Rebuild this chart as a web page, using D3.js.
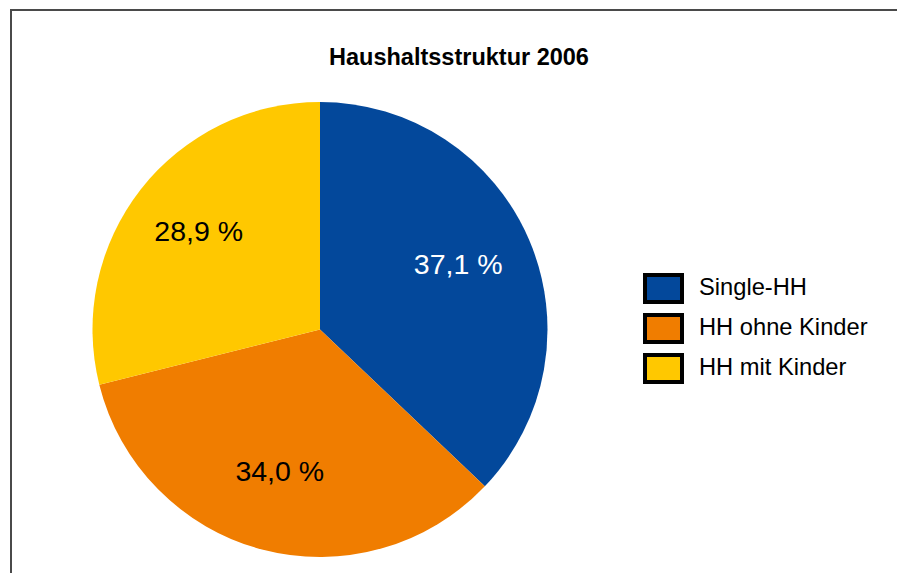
<!DOCTYPE html>
<html>
<head>
<meta charset="utf-8">
<script src="https://cdn.jsdelivr.net/npm/d3@7"></script>
<style>
  html, body { margin: 0; padding: 0; background: #fff; }
  svg { display: block; }
</style>
</head>
<body>
<svg id="chart"></svg>
<script>
const categories = ['Single-HH', 'HH ohne Kinder', 'HH mit Kinder'];
const values = [37.1, 34.0, 28.9];
const labelText = ['37,1 %', '34,0 %', '28,9 %'];
const colors = ['#03489b', '#f07d00', '#ffc800'];
const labelColors = ['#ffffff', '#000000', '#000000'];

const width = 897;
const height = 573;
const cx = 320, cy = 329.5, radius = 227.5;

const svg = d3.select('#chart')
    .attr('width', width)
    .attr('height', height)
    .style('font-family', '"Liberation Sans", Arial, sans-serif');

// frame (only top and left edges are visible)
svg.append('path')
    .attr('d', `M11,${height} L11,10 L${width},10`)
    .attr('fill', 'none')
    .attr('stroke', '#4a4a4a')
    .attr('stroke-width', 2);

svg.append('text')
    .attr('x', 459)
    .attr('y', 65)
    .attr('text-anchor', 'middle')
    .attr('font-weight', 'bold')
    .attr('font-size', 23.5)
    .attr('fill', '#000')
    .text('Haushaltsstruktur 2006');

const data = categories.map((c, i) => ({name: c, value: values[i], label: labelText[i], i}));

const pie = d3.pie()
    .value(d => d.value)
    .sort(null);

const arc = d3.arc()
    .innerRadius(0)
    .outerRadius(radius);

const labelArc = d3.arc()
    .innerRadius(152)
    .outerRadius(152);

const g = svg.append('g')
    .attr('transform', `translate(${cx},${cy})`);

const arcs = pie(data);

g.selectAll('path')
    .data(arcs)
    .join('path')
    .attr('d', arc)
    .attr('fill', d => colors[d.data.i]);

g.selectAll('text')
    .data(arcs)
    .join('text')
    .attr('transform', d => `translate(${labelArc.centroid(d)})`)
    .attr('text-anchor', 'middle')
    .attr('dx', -1.5)
    .attr('dy', '0.17em')
    .attr('font-size', 28.5)
    .attr('fill', d => labelColors[d.data.i])
    .text(d => d.data.label);

// legend
const legend = svg.append('g')
    .attr('transform', 'translate(645,275)');

const item = legend.selectAll('g')
    .data(data)
    .join('g')
    .attr('transform', (d, i) => `translate(0,${i * 40})`);

item.append('rect')
    .attr('width', 37)
    .attr('height', 27)
    .attr('fill', d => colors[d.i])
    .attr('stroke', '#000')
    .attr('stroke-width', 4);

item.append('text')
    .attr('x', 54)
    .attr('y', 20)
    .attr('font-size', 23.7)
    .attr('fill', '#000')
    .text(d => d.name);
</script>
</body>
</html>
